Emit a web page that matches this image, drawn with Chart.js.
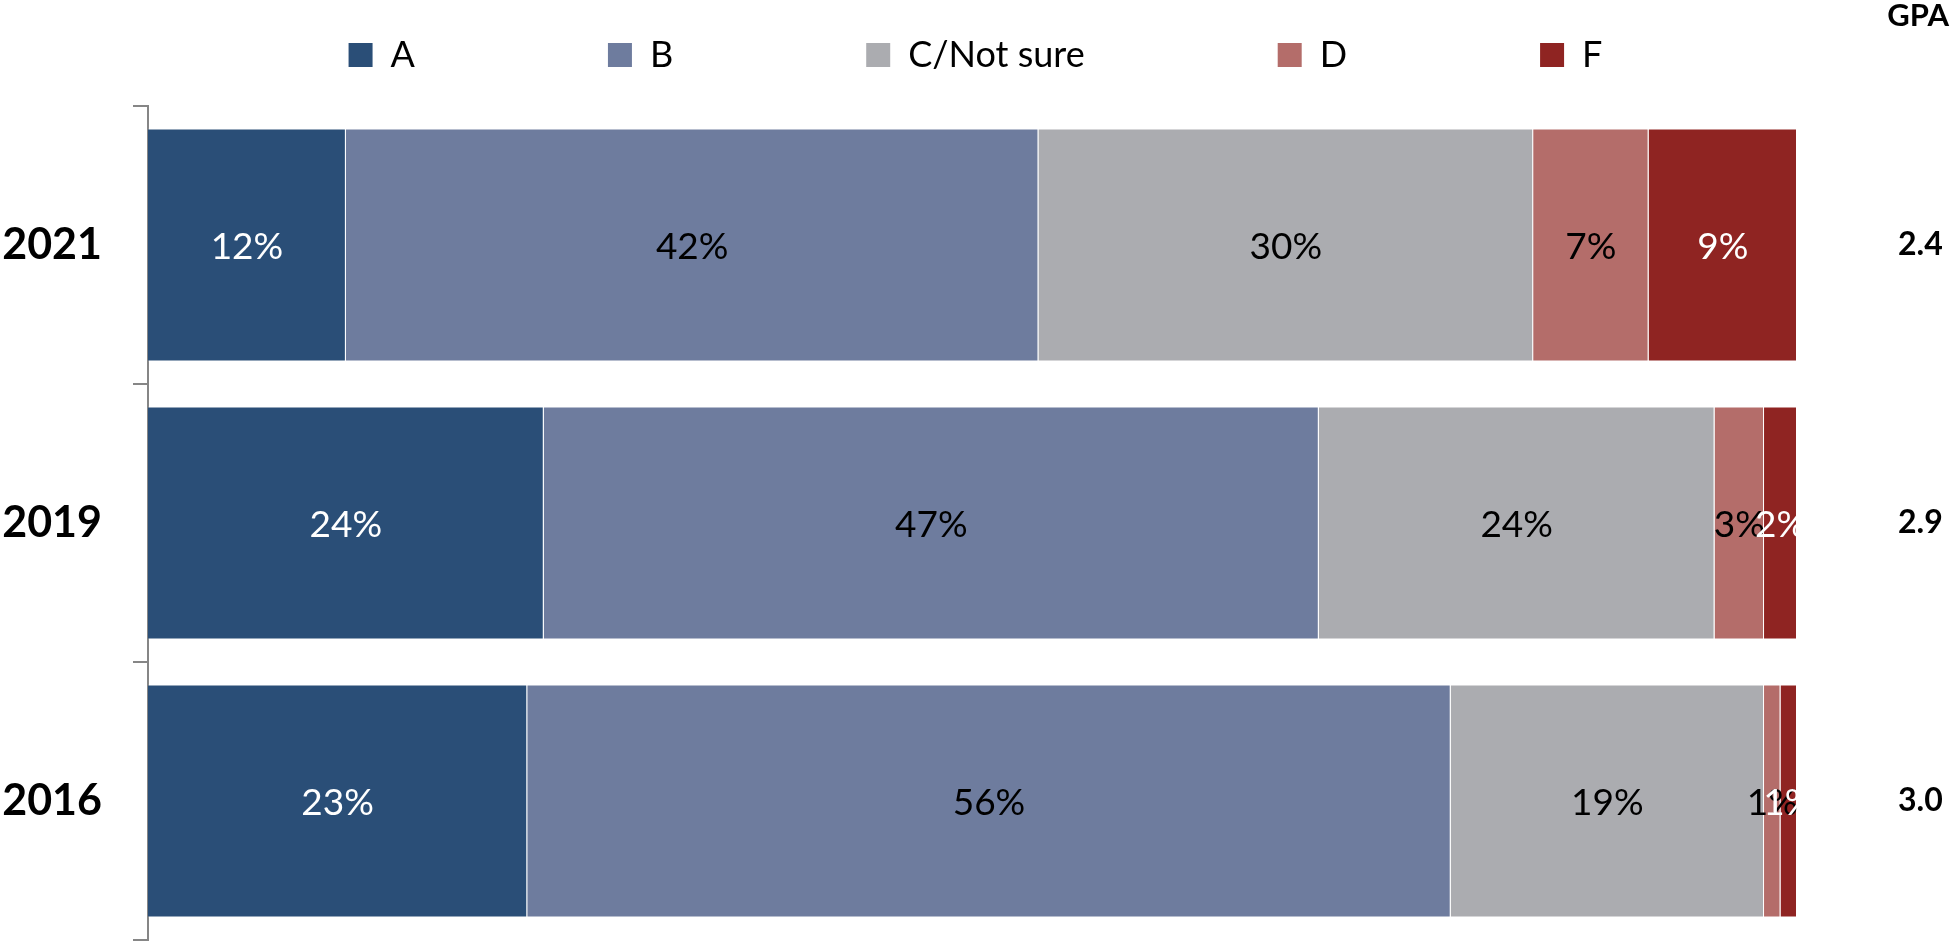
<!DOCTYPE html>
<html>
<head>
<meta charset="utf-8">
<script src="https://cdn.jsdelivr.net/npm/chart.js@4.4.1/dist/chart.umd.min.js"></script>
<style>
  html, body { margin: 0; padding: 0; background: #ffffff; overflow: hidden; }
  #wrap { width: 1952px; height: 942px; position: relative; }
</style>
</head>
<body>
<div id="wrap"><canvas id="c" width="1952" height="942"></canvas></div>
<script>
// ---- data ----
const years = ['2021', '2019', '2016'];
const gradeNames = ['A', 'B', 'C/Not sure', 'D', 'F'];
const gradeA = [12, 24, 23];
const gradeB = [42, 47, 56];
const gradeC = [30, 24, 19];
const gradeD = [7, 3, 1];
const gradeF = [9, 2, 1];
const gpaValues = ['2.4', '2.9', '3.0'];

// ---- styles ----
const FONT = 'Lato';
const seriesValues = [gradeA, gradeB, gradeC, gradeD, gradeF];
const fillColors = ['#2A4E77', '#6E7C9E', '#ABACB0', '#B46D6A', '#8F2422'];
const labelColors = ['#ffffff', '#000000', '#000000', '#000000', '#ffffff'];
const LEGEND_HEIGHT = 75;   // space the legend occupies above the plot
const LEGEND_ROW_TOP = 37;  // where the legend row starts

const legendPlacement = {
  id: 'legendPlacement',
  beforeLayout(chart) {
    const lg = chart.legend;
    if (lg && !lg._fitPatched) {
      const fit = lg.fit;
      lg.fit = function () { fit.call(this); this.height = LEGEND_HEIGHT; };
      lg._fitPatched = true;
    }
  },
  afterLayout(chart) {
    const lg = chart.legend;
    if (lg) lg.top = LEGEND_ROW_TOP - lg.options.labels.padding;
  }
};

const barLabels = {
  id: 'barLabels',
  afterDatasetsDraw(chart) {
    const ctx = chart.ctx;
    ctx.save();
    ctx.font = '37px ' + FONT;
    ctx.textAlign = 'center';
    ctx.textBaseline = 'middle';
    chart.data.datasets.forEach((ds, di) => {
      const meta = chart.getDatasetMeta(di);
      meta.data.forEach((el, i) => {
        const p = el.getProps(['x', 'y', 'base'], true);
        ctx.fillStyle = labelColors[di];
        ctx.fillText(ds.data[i] + '%', (p.x + p.base) / 2, p.y + 2);
      });
    });
    ctx.restore();
  }
};

function noScalePadding(s, width) {
  s.width = width;
  s.paddingTop = 0;
  s.paddingBottom = 0;
}

function draw() {
  new Chart(document.getElementById('c'), {
    type: 'bar',
    data: {
      labels: years,
      datasets: seriesValues.map((vals, i) => ({
        label: gradeNames[i],
        data: vals,
        backgroundColor: fillColors[i],
        borderColor: 'rgba(255,255,255,0.3)',
        borderWidth: 1,
        barPercentage: 0.838,
        categoryPercentage: 1
      }))
    },
    options: {
      indexAxis: 'y',
      responsive: false,
      animation: false,
      events: [],
      layout: { padding: { top: 0, left: 2, right: 3, bottom: 2 } },
      scales: {
        x: { stacked: true, min: 0, max: 100, display: false },
        y: {
          stacked: true,
          position: 'left',
          offset: true,
          grid: { display: true, offset: true, drawOnChartArea: false, drawTicks: true, tickLength: 15, color: '#868686', lineWidth: 2 },
          border: { display: true, color: '#868686', width: 2 },
          ticks: { font: { family: FONT, size: 43, weight: 'bold' }, color: '#000000', padding: 31 },
          afterFit(s) { noScalePadding(s, 146); }
        },
        y2: {
          type: 'category',
          labels: gpaValues,
          position: 'right',
          offset: true,
          grid: { display: false, drawTicks: false },
          border: { display: false },
          ticks: { font: { family: FONT, size: 32, weight: 'bold' }, color: '#000000', padding: 101 },
          afterFit(s) { noScalePadding(s, 152); }
        }
      },
      plugins: {
        title: {
          display: true, text: 'GPA', align: 'end', color: '#000000',
          font: { family: FONT, size: 31, weight: 'bold', lineHeight: 1 },
          padding: { top: 0, bottom: 0 }
        },
        legend: {
          display: true,
          position: 'top',
          labels: {
            font: { family: FONT, size: 36 },
            color: '#000000',
            boxWidth: 24,
            boxHeight: 24,
            padding: 193,
            generateLabels(chart) {
              return Chart.defaults.plugins.legend.labels.generateLabels(chart).map(l => Object.assign(l, { lineWidth: 0 }));
            }
          }
        },
        tooltip: { enabled: false }
      }
    },
    plugins: [legendPlacement, barLabels]
  });
}

Promise.all([
  document.fonts.load('37px Lato'),
  document.fonts.load('bold 44px Lato')
]).catch(() => {}).then(draw);
</script>
</body>
</html>
